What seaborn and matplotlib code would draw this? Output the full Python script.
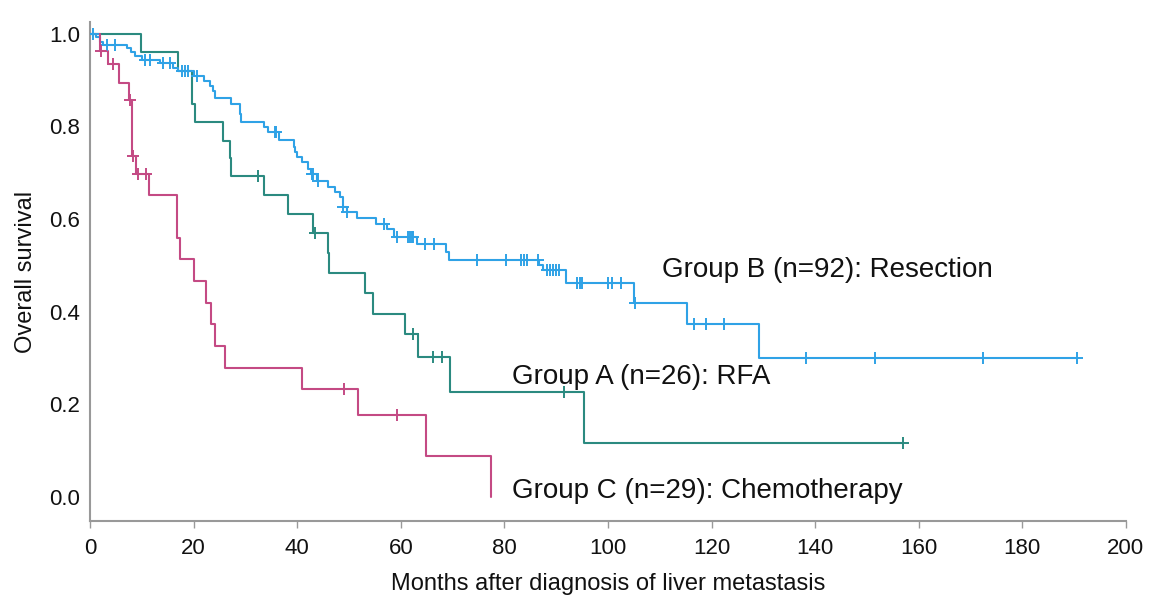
import numpy as np
import matplotlib
matplotlib.use("Agg")
import matplotlib.pyplot as plt
import seaborn as sns

# Group A (RFA)
times_a = [0, 9.8, 16.9, 19.6, 20.3, 25.6, 27.0, 27.3, 33.6, 38.3, 43.0, 45.9, 46.2,
           53.1, 54.6, 60.8, 63.4, 69.5, 95.4, 157.0]
surv_a = [1.0, 0.960, 0.920, 0.849, 0.809, 0.769, 0.731, 0.692, 0.651, 0.610, 0.570,
          0.527, 0.483, 0.440, 0.396, 0.351, 0.302, 0.226, 0.116, 0.116]
cens_a = [32.4, 43.4, 62.3, 66.3, 67.9, 91.6, 157.0]

# Group B (Resection)
times_b = [0, 1.2, 2.0, 2.5, 7.2, 8.0, 8.7, 10.0, 13.5, 16.1, 17.0, 20.1, 22.0, 23.2,
           23.7, 24.1, 27.2, 29.0, 29.2, 33.5, 34.4, 36.5, 39.3, 39.6, 39.9, 40.9,
           42.0, 42.6, 43.8, 46.0, 47.3, 48.3, 48.8, 49.6, 51.5, 55.2, 57.3, 58.6,
           63.2, 68.8, 69.4, 86.7, 87.4, 91.9, 105.1, 115.2, 129.2, 190.5]
surv_b = [1.0, 0.992, 0.983, 0.976, 0.970, 0.960, 0.953, 0.943, 0.936, 0.927, 0.920,
          0.909, 0.897, 0.888, 0.877, 0.861, 0.848, 0.827, 0.809, 0.798, 0.787, 0.771,
          0.755, 0.744, 0.733, 0.723, 0.708, 0.698, 0.683, 0.669, 0.658, 0.647, 0.626,
          0.615, 0.603, 0.590, 0.579, 0.561, 0.547, 0.529, 0.511, 0.500, 0.489, 0.462,
          0.419, 0.373, 0.299, 0.299]
cens_b = [0.6, 3.2, 4.8, 10.6, 11.6, 14.0, 15.4, 17.7, 18.3, 19.0, 20.6, 35.7, 36.0,
          42.8, 43.1, 44.1, 48.9, 49.6, 56.8, 59.2, 61.4, 61.8, 62.1, 62.4, 64.7, 66.4,
          74.8, 80.3, 83.3, 83.8, 84.3, 86.4, 88.2, 88.9, 89.4, 90.0, 90.6, 94.0, 94.6,
          94.9, 100.0, 100.7, 102.5, 105.2, 116.6, 119.0, 122.4, 138.2, 151.5, 172.5,
          190.5]

# Group C (Chemotherapy)
times_c = [0, 1.9, 3.5, 5.5, 7.6, 8.1, 8.9, 11.4, 16.8, 17.4, 20.1, 22.3, 23.3, 24.1,
           26.1, 41.0, 51.7, 64.9, 77.4]
surv_c = [1.0, 0.962, 0.935, 0.894, 0.856, 0.737, 0.698, 0.651, 0.558, 0.513, 0.466,
          0.418, 0.373, 0.325, 0.278, 0.233, 0.177, 0.088, 0.0]
cens_c = [2.2, 4.5, 7.8, 8.3, 9.3, 10.9, 49.0, 59.3]

groups = [
    ("Group A (n=26): RFA", times_a, surv_a, cens_a, "#2b8a80", (81.5, 0.259)),
    ("Group B (n=92): Resection", times_b, surv_b, cens_b, "#2fa2e6", (110.4, 0.489)),
    ("Group C (n=29): Chemotherapy", times_c, surv_c, cens_c, "#c44a84", (81.5, 0.013)),
]

sns.set_theme(style="white")
plt.rcParams["font.family"] = ["Liberation Sans", "DejaVu Sans"]

fig = plt.figure(figsize=(11.5, 6), dpi=100)
ax = fig.add_axes([0.0783, 0.1317, 0.9007, 0.8313])

for label, t, s, cens, color, pos in groups:
    sns.lineplot(x=t, y=s, estimator=None, sort=False, drawstyle="steps-post",
                 color=color, linewidth=1.5, ax=ax)
    # censor marks sit on the curve at the censoring time
    t_arr = np.array(t)
    idx = np.searchsorted(t_arr, np.array(cens), side="right") - 1
    cy = np.array(s)[idx]
    sns.scatterplot(x=cens, y=cy, marker="+", s=70, linewidth=1.4, color=color,
                    ax=ax, zorder=3)
    ax.text(pos[0], pos[1], label, fontsize=20, va="center", ha="left", color="#111111")

ax.set_xlim(0, 200)
ax.set_ylim(-0.052, 1.025)
ax.set_xticks(range(0, 201, 20))
ax.set_yticks([0.0, 0.2, 0.4, 0.6, 0.8, 1.0])
ax.set_yticklabels(["0.0", "0.2", "0.4", "0.6", "0.8", "1.0"])
ax.tick_params(axis="x", bottom=True, length=5, width=1, color="#999999",
               labelsize=16, pad=7, labelcolor="#111111")
ax.tick_params(axis="y", left=False, length=0, labelsize=16, pad=7,
               labelcolor="#111111")
ax.set_xlabel("Months after diagnosis of liver metastasis", fontsize=17,
              labelpad=10, color="#111111")
ax.set_ylabel("Overall survival", fontsize=17, labelpad=9, color="#111111")

sns.despine(ax=ax)
for side in ["left", "bottom"]:
    ax.spines[side].set_color("#999999")
    ax.spines[side].set_linewidth(1.5)

fig.savefig("out.png", dpi=100)
